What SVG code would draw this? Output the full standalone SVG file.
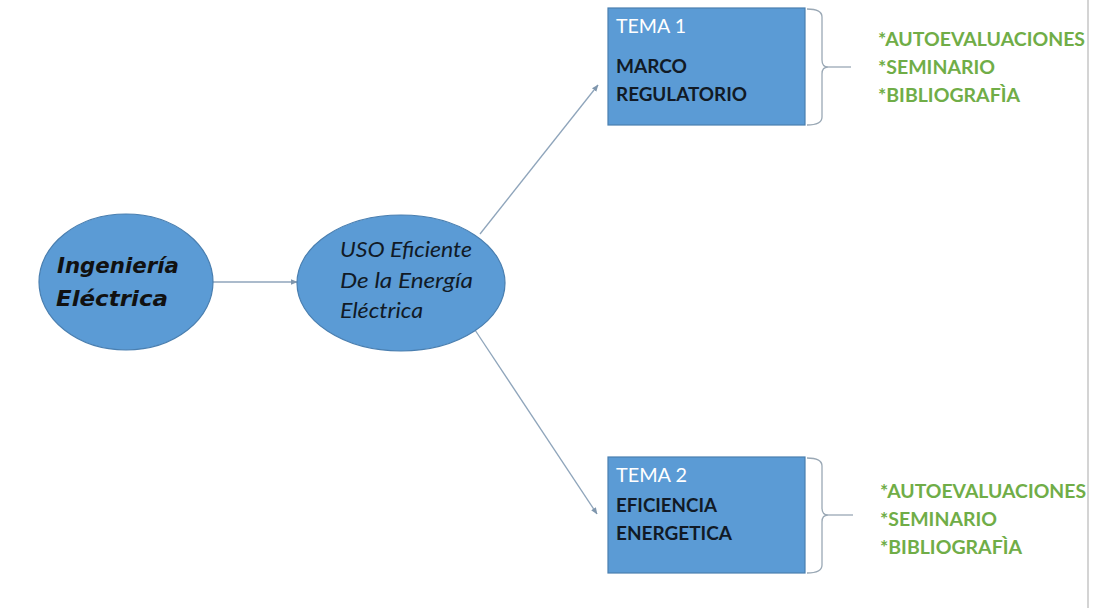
<svg xmlns="http://www.w3.org/2000/svg" width="1093" height="608" viewBox="0 0 1093 608">
<defs>
<marker id="arr" viewBox="0 0 10 10" refX="9" refY="5" markerWidth="7" markerHeight="7" orient="auto" markerUnits="userSpaceOnUse">
<path d="M0,1 L10,5 L0,9 z" fill="#7f96ad"/>
</marker>
<style>
.node{fill:#5b9bd5;stroke:#4a7fb0;stroke-width:1.2}
.conn{stroke:#8fa5bb;stroke-width:1.3;fill:none}
.brace{stroke:#9aa8b5;stroke-width:1.3;fill:none}
.tema{font-family:Lato,"Open Sans",sans-serif;font-size:19px;fill:#ffffff}
.title{font-family:Lato,"Open Sans",sans-serif;font-size:18px;font-weight:bold;fill:#111a26}
.green{font-family:Lato,"Open Sans",sans-serif;font-size:19.5px;font-weight:bold;fill:#70ad47}
.hand{font-family:"DejaVu Sans",sans-serif;font-size:22px;font-weight:bold;font-style:italic;fill:#111}
.ital{font-family:Lato,"Open Sans",sans-serif;font-size:21px;font-style:italic;fill:#111a26}
</style>
</defs>
<rect width="1093" height="608" fill="#ffffff"/>
<line x1="1088" y1="0" x2="1088" y2="608" stroke="#d4d4d4" stroke-width="2"/>
<g id="connectors">
<line class="conn" x1="213" y1="282" x2="297" y2="282" marker-end="url(#arr)"/>
<line class="conn" x1="480" y1="234" x2="598" y2="85" marker-end="url(#arr)"/>
<line class="conn" x1="475" y1="330" x2="597" y2="514" marker-end="url(#arr)"/>
<path class="brace" d="M807,9 Q822,9 822,17 L822,60 Q822,67 828,67 Q822,67 822,74 L822,117 Q822,125 807,125"/>
<line class="brace" x1="828" y1="67" x2="851" y2="67"/>
<path class="brace" d="M807,458 Q822,458 822,466 L822,508 Q822,515 828,515 Q822,515 822,522 L822,565 Q822,573 807,573"/>
<line class="brace" x1="828" y1="515" x2="853" y2="515"/>
</g>
<g id="ingenieria">
<ellipse class="node" cx="126" cy="282" rx="87" ry="68"/>
<text class="hand" x="57" y="273" textLength="122" lengthAdjust="spacingAndGlyphs">Ingeniería</text>
<text class="hand" x="56" y="306" textLength="112" lengthAdjust="spacingAndGlyphs">Eléctrica</text>
</g>
<g id="uso">
<ellipse class="node" cx="401" cy="283" rx="104" ry="68"/>
<text class="ital" x="340" y="257" textLength="132" lengthAdjust="spacingAndGlyphs">USO Eficiente</text>
<text class="ital" x="340" y="288" textLength="133" lengthAdjust="spacingAndGlyphs">De la Energía</text>
<text class="ital" x="340" y="318" textLength="83" lengthAdjust="spacingAndGlyphs">Eléctrica</text>
</g>
<g id="tema1">
<rect class="node" x="608" y="8" width="197" height="117"/>
<text class="tema" x="616" y="33" textLength="70" lengthAdjust="spacingAndGlyphs">TEMA 1</text>
<text class="title" x="616" y="73" textLength="71" lengthAdjust="spacingAndGlyphs">MARCO</text>
<text class="title" x="616" y="101" textLength="131" lengthAdjust="spacingAndGlyphs">REGULATORIO</text>
</g>
<g id="tema2">
<rect class="node" x="608" y="457" width="197" height="116"/>
<text class="tema" x="616" y="482" textLength="71" lengthAdjust="spacingAndGlyphs">TEMA 2</text>
<text class="title" x="616" y="512" textLength="101" lengthAdjust="spacingAndGlyphs">EFICIENCIA</text>
<text class="title" x="616" y="540" textLength="116" lengthAdjust="spacingAndGlyphs">ENERGETICA</text>
</g>
<g id="list1">
<text class="green" x="878" y="46" textLength="207" lengthAdjust="spacingAndGlyphs">*AUTOEVALUACIONES</text>
<text class="green" x="878" y="74" textLength="117" lengthAdjust="spacingAndGlyphs">*SEMINARIO</text>
<text class="green" x="878" y="102" textLength="142" lengthAdjust="spacingAndGlyphs">*BIBLIOGRAFÌA</text>
</g>
<g id="list2">
<text class="green" x="880" y="498" textLength="206" lengthAdjust="spacingAndGlyphs">*AUTOEVALUACIONES</text>
<text class="green" x="880" y="526" textLength="117" lengthAdjust="spacingAndGlyphs">*SEMINARIO</text>
<text class="green" x="880" y="554" textLength="142" lengthAdjust="spacingAndGlyphs">*BIBLIOGRAFÌA</text>
</g>
</svg>
